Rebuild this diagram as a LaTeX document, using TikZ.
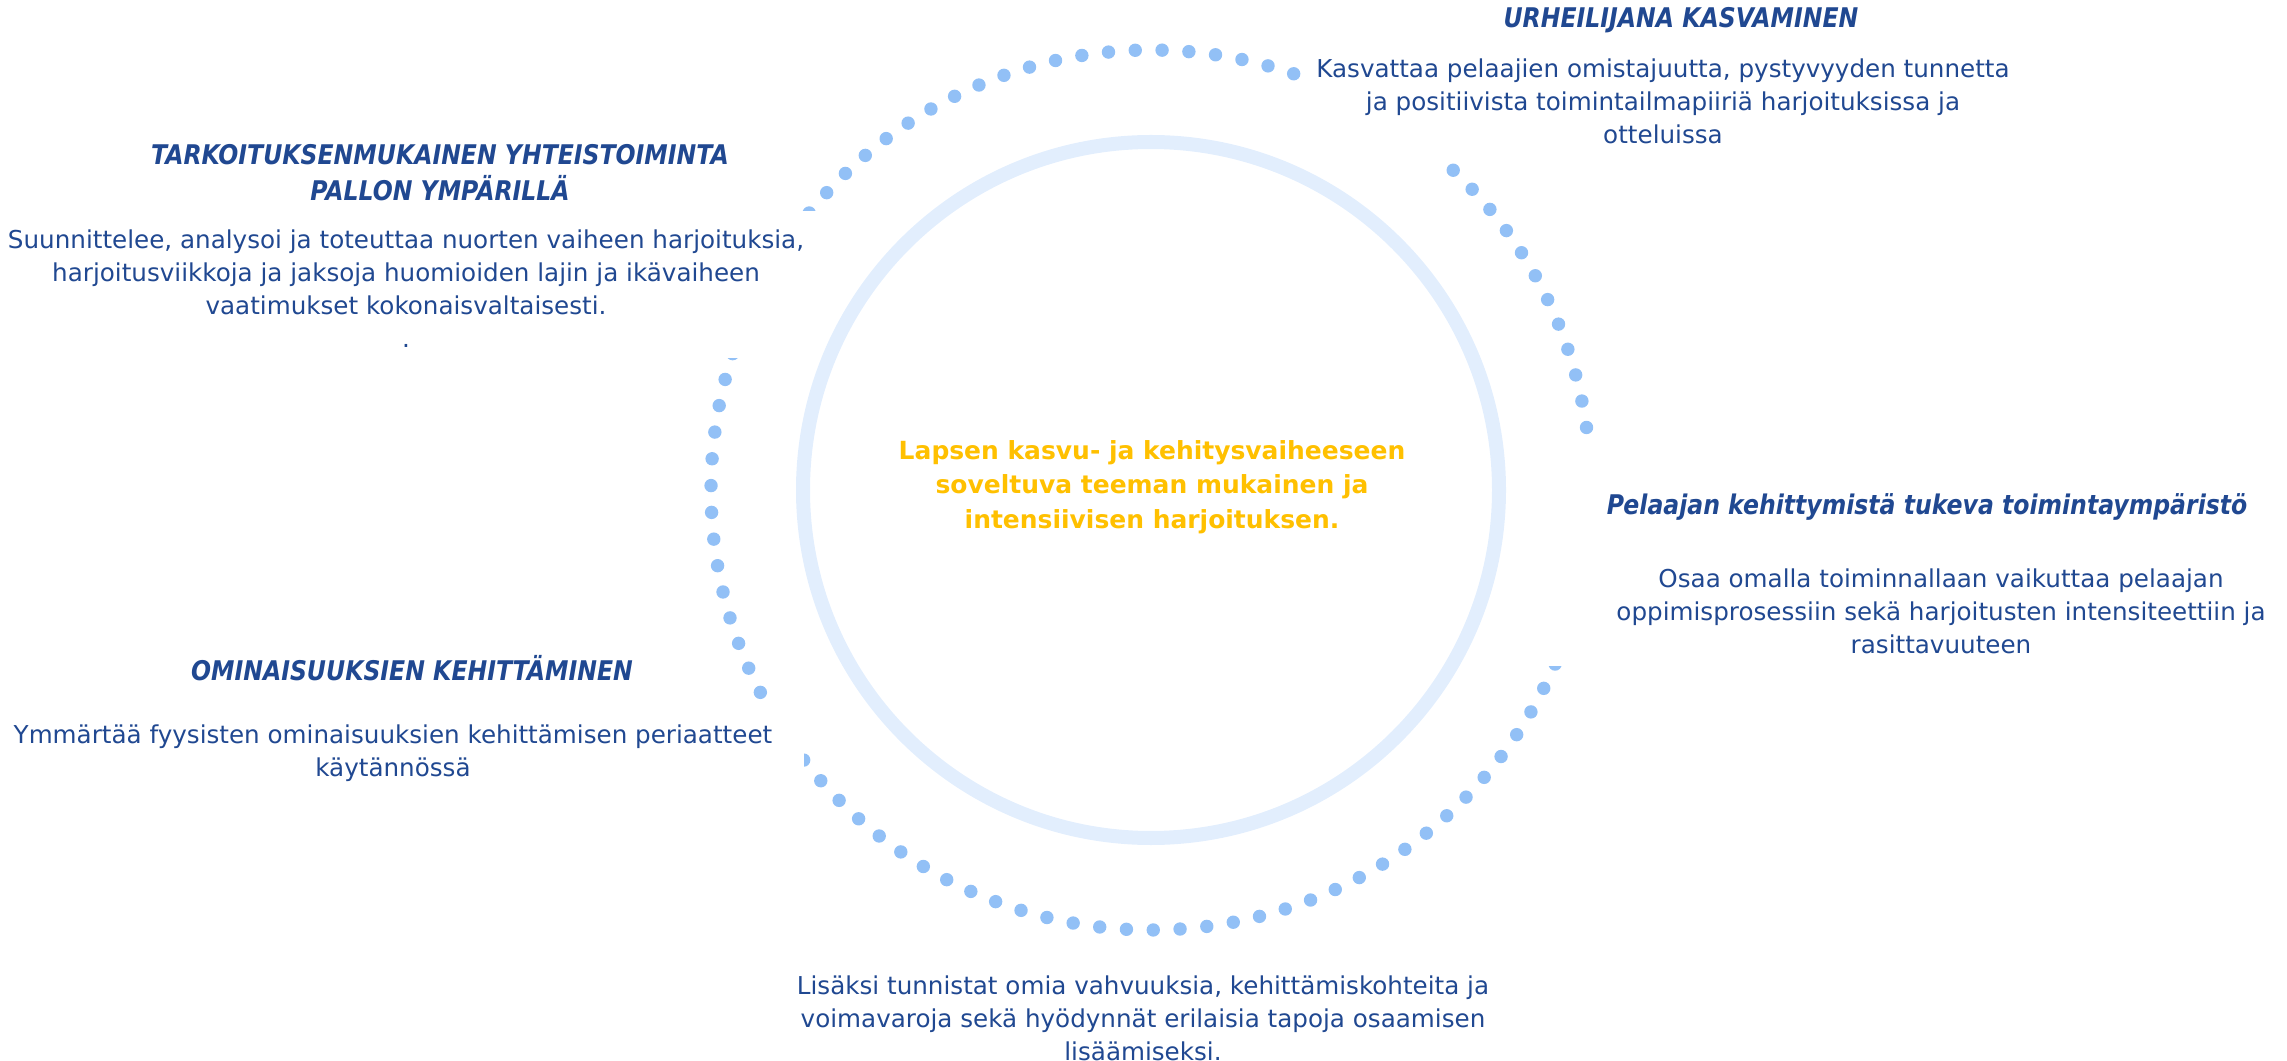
\documentclass[tikz,border=0pt]{standalone}
\usepackage{fontspec}
\setmainfont{DejaVu Sans}
\newfontfamily\headfont[FakeStretch=0.87]{DejaVu Sans}
\usetikzlibrary{positioning}

\definecolor{txtblue}{RGB}{32,72,145}
\definecolor{gold}{RGB}{255,192,0}
\definecolor{dotblue}{RGB}{146,192,246}
\definecolor{ringblue}{RGB}{226,238,253}

\begin{document}
\begin{tikzpicture}[x=0.01cm,y=-0.01cm]
	\tikzstyle{every node}=[inner sep=0pt, align=center, text=txtblue]
	\tikzstyle{head}=[font=\headfont\bfseries\itshape\fontsize{7.7}{10.2}\selectfont]
	\tikzstyle{body}=[font=\fontsize{7}{9.4}\selectfont]
	\tikzstyle{core}=[font=\bfseries\fontsize{7.1}{9.8}\selectfont, text=gold]
	\tikzstyle{dot}=[fill=dotblue]
	\tikzstyle{mask}=[fill=white]
	\tikzstyle{ring}=[draw=ringblue, line width=1.4mm]

	\useasboundingbox (0,0) rectangle (2287,1061);

	% dotted outer circle
	\begin{scope}[shift={(1151,490)}]
		\foreach \k in {0,...,102}
			\fill[dot] ({-8.17-3.495*\k}:440) circle (6.7);
	\end{scope}

	% text boxes hide the dots behind them
	\fill[mask] (0,211) rectangle (830,358);
	\fill[mask] (1307,0) rectangle (2287,161);
	\fill[mask] (1540,440) rectangle (2287,666);
	\fill[mask] (0,704) rectangle (804,790);

	\draw[ring] (1151,490) circle (348);

	\node[core] (core) at (1152,487) {Lapsen kasvu- ja kehitysvaiheeseen\\soveltuva teeman mukainen ja\\intensiivisen harjoituksen.};

	\node[head] (grow) at (1681,20) {URHEILIJANA KASVAMINEN};
	\node[body] (growtxt) at (1663,101) {Kasvattaa pelaajien omistajuutta, pystyvyyden tunnetta\\ja positiivista toimintailmapiiriä harjoituksissa ja\\otteluissa};

	\node[head] (play) at (440,173) {TARKOITUKSENMUKAINEN YHTEISTOIMINTA\\PALLON YMPÄRILLÄ};
	\node[body] (playtxt) at (406,289) {Suunnittelee, analysoi ja toteuttaa nuorten vaiheen harjoituksia,\\harjoitusviikkoja ja jaksoja huomioiden lajin ja ikävaiheen\\vaatimukset kokonaisvaltaisesti.\\.};

	\node[head] (env) at (1927,507) {Pelaajan kehittymistä tukeva toimintaympäristö};
	\node[body] (envtxt) at (1941,611) {Osaa omalla toiminnallaan vaikuttaa pelaajan\\oppimisprosessiin sekä harjoitusten intensiteettiin ja\\rasittavuuteen};

	\node[head] (phys) at (412,668) {OMINAISUUKSIEN KEHITTÄMINEN};
	\node[body] (phystxt) at (393,753) {Ymmärtää fyysisten ominaisuuksien kehittämisen periaatteet\\käytännössä};

	\node[body] (self) at (1143,1018) {Lisäksi tunnistat omia vahvuuksia, kehittämiskohteita ja\\voimavaroja sekä hyödynnät erilaisia tapoja osaamisen\\lisäämiseksi.};
\end{tikzpicture}
\end{document}
